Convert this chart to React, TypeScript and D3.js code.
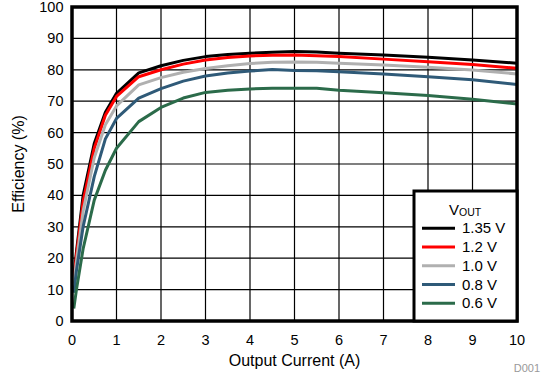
import React from "react";
import * as d3 from "d3";

const currents = [0.04, 0.1, 0.25, 0.5, 0.75, 1, 1.5, 2, 2.5, 3, 3.5, 4, 4.5, 5, 5.5, 6, 7, 8, 9, 10];
const eff135 = [14, 22, 40, 56.5, 66.5, 72.5, 79, 81.3, 83, 84.2, 84.9, 85.3, 85.6, 85.8, 85.7, 85.3, 84.7, 84.0, 83.1, 82.1];
const eff120 = [13, 21, 38, 55, 65.5, 71.5, 77.8, 80, 81.8, 83.1, 83.9, 84.4, 84.6, 84.7, 84.5, 84.2, 83.4, 82.6, 81.7, 80.5];
const eff100 = [12, 19, 35, 52, 62.5, 68.5, 75.2, 77.5, 79.2, 80.4, 81.3, 82, 82.4, 82.5, 82.4, 82.1, 81.5, 80.8, 79.9, 78.7];
const eff080 = [9, 16, 30, 46, 58, 64.5, 71, 74, 76.4, 78, 79, 79.6, 80.1, 79.8, 79.7, 79.4, 78.7, 77.8, 76.8, 75.3];
const eff060 = [4, 10, 23, 38.5, 48, 55, 63.5, 68, 71, 72.8, 73.5, 73.9, 74.1, 74.1, 74.1, 73.5, 72.7, 71.8, 70.6, 69.1];

const seriesLabels = ["1.35 V", "1.2 V", "1.0 V", "0.8 V", "0.6 V"];
const seriesColors = ["#000000", "#ff0000", "#b0b0b0", "#2f5a78", "#2b6b4a"];
const seriesValues = [eff135, eff120, eff100, eff080, eff060];

const xTicks = [0, 1, 2, 3, 4, 5, 6, 7, 8, 9, 10];
const yTicks = [0, 10, 20, 30, 40, 50, 60, 70, 80, 90, 100];

export default function App() {
  const W = 548, H = 381;
  const left = 72, right = 517, top = 7, bottom = 321;
  const x = d3.scaleLinear().domain([0, 10]).range([left, right]);
  const y = d3.scaleLinear().domain([0, 100]).range([bottom, top]);
  const line = d3.line<[number, number]>().x(d => x(d[0])).y(d => y(d[1]));
  const font = "Arial, 'Liberation Sans', sans-serif";

  const lgLeft = 414, lgTop = 191;
  const rowY = (i: number) => 228.3 + i * 18.75;

  return (
    <svg width={W} height={H} style={{ position: "absolute", left: 0, top: 0, background: "#fff" }} fontFamily={font}>
      <rect x={0} y={0} width={W} height={H} fill="#fff" />
      <defs>
        <clipPath id="plotclip">
          <rect x={left} y={top} width={right - left} height={bottom - top} />
        </clipPath>
      </defs>
      {xTicks.map(t => (
        <line key={"gx" + t} x1={x(t)} x2={x(t)} y1={top} y2={bottom} stroke="#000" strokeWidth={1.2} />
      ))}
      {yTicks.map(t => (
        <line key={"gy" + t} x1={left} x2={right} y1={y(t)} y2={y(t)} stroke="#000" strokeWidth={1.2} />
      ))}
      <g clipPath="url(#plotclip)">
        {seriesValues.map((vals, i) => (
          <path
            key={"s" + i}
            d={line(currents.map((c, j) => [c, vals[j]] as [number, number])) || ""}
            fill="none"
            stroke={seriesColors[i]}
            strokeWidth={3}
            strokeLinejoin="round"
          />
        ))}
      </g>
      <rect x={left} y={top} width={right - left} height={bottom - top} fill="none" stroke="#000" strokeWidth={3.5} />
      {/* legend */}
      <rect x={lgLeft} y={lgTop} width={right - lgLeft} height={bottom - lgTop} fill="#fff" stroke="#000" strokeWidth={3} />
      <text x={449} y={214.5} fontSize={15} fill="#000">
        V<tspan fontSize={10.5} dy={1.5}>OUT</tspan>
      </text>
      {seriesLabels.map((lab, i) => (
        <g key={"lg" + i}>
          <line x1={422} x2={455} y1={rowY(i)} y2={rowY(i)} stroke={seriesColors[i]} strokeWidth={3} />
          <text x={462} y={rowY(i) + 5} fontSize={15} fill="#000">{lab}</text>
        </g>
      ))}
      {xTicks.map(t => (
        <text key={"tx" + t} x={x(t)} y={345} fontSize={14.5} textAnchor="middle" fill="#000">{t}</text>
      ))}
      {yTicks.map(t => (
        <text key={"ty" + t} x={63.5} y={y(t) + 5} fontSize={14.5} textAnchor="end" fill="#000">{t}</text>
      ))}
      <text x={(left + right) / 2} y={366} fontSize={16} textAnchor="middle" fill="#000">Output Current (A)</text>
      <text transform={`translate(24, ${(top + bottom) / 2}) rotate(-90)`} fontSize={16} textAnchor="middle" fill="#000">Efficiency (%)</text>
      <text x={540} y={372} fontSize={11} textAnchor="end" fill="#999">D001</text>
    </svg>
  );
}
